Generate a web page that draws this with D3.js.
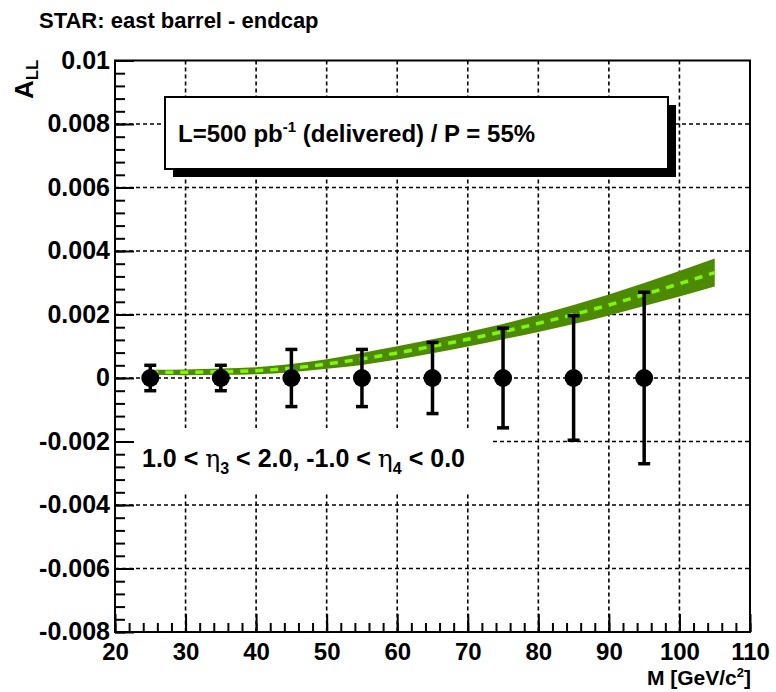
<!DOCTYPE html>
<html>
<head>
<meta charset="utf-8">
<script src="https://cdn.jsdelivr.net/npm/d3@7"></script>
<style>
  body { margin: 0; background: #fff; }
  text { font-family: "Liberation Sans", Arial, sans-serif; font-weight: bold; fill: #000; }
</style>
</head>
<body>
<div id="chart"></div>
<script>
// data
var massPoints = [25, 35, 45, 55, 65, 75, 85, 95];
var asymValues = [0, 0, 0, 0, 0, 0, 0, 0];
var asymErrors = [0.0004, 0.0004, 0.0009, 0.0009, 0.00112, 0.00157, 0.00196, 0.0027];

// theory band (central value and half width)
var bandMass   = [25, 30, 35, 40, 45, 50, 55, 60, 65, 70, 75, 80, 85, 90, 95, 100, 105];
var bandCenter = [0.00018, 0.00018, 0.0002, 0.00023, 0.00031, 0.00044, 0.0006, 0.00079, 0.001,
                  0.00122, 0.00146, 0.00172, 0.002, 0.0023, 0.00263, 0.00297, 0.00332];
var bandHalf   = [0.00008, 0.00009, 0.0001, 0.00011, 0.00013, 0.00015, 0.00019, 0.00021, 0.00022,
                  0.00023, 0.00024, 0.00027, 0.0003, 0.00033, 0.00036, 0.0004, 0.00044];

var xTicks = [20, 30, 40, 50, 60, 70, 80, 90, 100, 110];
var yTicks = [-0.008, -0.006, -0.004, -0.002, 0, 0.002, 0.004, 0.006, 0.008, 0.01];
var yTickLabels = ["-0.008", "-0.006", "-0.004", "-0.002", "0", "0.002", "0.004", "0.006", "0.008", "0.01"];

var width = 776, height = 692;
var frame = {left: 115, right: 750, top: 60.5, bottom: 632};

var svg = d3.select("#chart")
  .append("svg")
    .attr("width", width)
    .attr("height", height);

var x = d3.scaleLinear().domain([20, 110]).range([frame.left, frame.right]);
var y = d3.scaleLinear().domain([-0.008, 0.01]).range([frame.bottom, frame.top]);

// dashed grid
var grid = svg.append("g")
  .attr("stroke", "#000")
  .attr("stroke-width", 1.6)
  .attr("stroke-dasharray", "4,3");
grid.selectAll("line.gx")
  .data(xTicks.slice(1, -1))
  .enter().append("line")
    .attr("x1", d => x(d)).attr("x2", d => x(d))
    .attr("y1", frame.top).attr("y2", frame.bottom);
grid.selectAll("line.gy")
  .data(yTicks.slice(1, -1))
  .enter().append("line")
    .attr("y1", d => y(d)).attr("y2", d => y(d))
    .attr("x1", frame.left).attr("x2", frame.right);

// legend box with shadow
svg.append("rect")
  .attr("x", 173).attr("y", 105).attr("width", 503).attr("height", 72)
  .attr("fill", "#000");
svg.append("rect")
  .attr("x", 165).attr("y", 97).attr("width", 503).attr("height", 72)
  .attr("fill", "#fff").attr("stroke", "#000").attr("stroke-width", 2);
var leg = svg.append("text")
  .attr("x", 178).attr("y", 142)
  .style("font-size", "24px");
leg.append("tspan").text("L=500 pb");
leg.append("tspan").attr("dy", -10).style("font-size", "15px").text("-1");
leg.append("tspan").attr("dy", 10).text(" (delivered) / P = 55%");

// white pave behind the eta text
svg.append("rect")
  .attr("x", frame.left + 1).attr("y", 428).attr("width", 377).attr("height", 66)
  .attr("fill", "#fff");
var eta = svg.append("text")
  .attr("x", 142).attr("y", 467)
  .style("font-size", "25px");
eta.append("tspan").text("1.0 < ");
eta.append("tspan").style("font-family", "'DejaVu Serif', serif").style("font-weight", "normal").text("η");
eta.append("tspan").attr("dy", 7).style("font-size", "16px").text("3");
eta.append("tspan").attr("dy", -7).text(" < 2.0, -1.0 < ");
eta.append("tspan").style("font-family", "'DejaVu Serif', serif").style("font-weight", "normal").text("η");
eta.append("tspan").attr("dy", 7).style("font-size", "16px").text("4");
eta.append("tspan").attr("dy", -7).text(" < 0.0");

// theory band
var bandData = bandMass.map((m, i) => ({m: m, c: bandCenter[i], h: bandHalf[i]}));
var area = d3.area()
  .curve(d3.curveMonotoneX)
  .x(d => x(d.m))
  .y0(d => y(d.c - d.h))
  .y1(d => y(d.c + d.h));
svg.append("path")
  .datum(bandData)
  .attr("d", area)
  .attr("fill", "#4c8a00");
svg.append("path")
  .datum(bandData)
  .attr("d", d3.line().curve(d3.curveMonotoneX).x(d => x(d.m)).y(d => y(d.c)))
  .attr("fill", "none")
  .attr("stroke", "#80f800")
  .attr("stroke-width", 3.5)
  .attr("stroke-dasharray", "8,7");

// error bars and markers
var pts = massPoints.map((m, i) => ({m: m, v: asymValues[i], e: asymErrors[i]}));
var eb = svg.append("g").attr("stroke", "#000").attr("stroke-width", 3.5);
eb.selectAll("line.bar")
  .data(pts)
  .enter().append("line")
    .attr("x1", d => x(d.m)).attr("x2", d => x(d.m))
    .attr("y1", d => y(d.v - d.e)).attr("y2", d => y(d.v + d.e));
eb.selectAll("line.capTop")
  .data(pts)
  .enter().append("line")
    .attr("x1", d => x(d.m) - 6).attr("x2", d => x(d.m) + 6)
    .attr("y1", d => y(d.v + d.e)).attr("y2", d => y(d.v + d.e));
eb.selectAll("line.capBot")
  .data(pts)
  .enter().append("line")
    .attr("x1", d => x(d.m) - 6).attr("x2", d => x(d.m) + 6)
    .attr("y1", d => y(d.v - d.e)).attr("y2", d => y(d.v - d.e));
svg.append("g").selectAll("circle")
  .data(pts)
  .enter().append("circle")
    .attr("cx", d => x(d.m))
    .attr("cy", d => y(d.v))
    .attr("r", 9)
    .attr("fill", "#000");

// frame
svg.append("rect")
  .attr("x", frame.left).attr("y", frame.top)
  .attr("width", frame.right - frame.left).attr("height", frame.bottom - frame.top)
  .attr("fill", "none").attr("stroke", "#000").attr("stroke-width", 2);

// left axis: major + minor ticks pointing inside
var yMinor = d3.range(-0.008, 0.01 + 1e-9, 0.0004);
svg.append("g")
  .attr("transform", "translate(" + frame.left + ",0)")
  .call(d3.axisLeft(y).tickValues(yMinor).tickSize(-10).tickFormat(""))
  .call(g => g.select(".domain").remove())
  .call(g => g.selectAll("line").attr("stroke-width", 2));
svg.append("g")
  .attr("transform", "translate(" + frame.left + ",0)")
  .call(d3.axisLeft(y).tickValues(yTicks).tickSize(-19).tickPadding(5)
    .tickFormat((d, i) => yTickLabels[i]))
  .call(g => g.select(".domain").remove())
  .call(g => g.selectAll("line").attr("stroke-width", 2))
  .call(g => g.selectAll("text")
    .style("font-size", "25px")
    .style("font-family", "'Liberation Sans', Arial, sans-serif")
    .style("font-weight", "bold")
    .attr("dy", "0.3em"));

// bottom axis
var xMinor = d3.range(20, 110.01, 2);
svg.append("g")
  .attr("transform", "translate(0," + frame.bottom + ")")
  .call(d3.axisBottom(x).tickValues(xMinor).tickSize(-9).tickFormat(""))
  .call(g => g.select(".domain").remove())
  .call(g => g.selectAll("line").attr("stroke-width", 2));
svg.append("g")
  .attr("transform", "translate(0," + frame.bottom + ")")
  .call(d3.axisBottom(x).tickValues(xTicks).tickSize(-18).tickPadding(11).tickFormat(d3.format("d")))
  .call(g => g.select(".domain").remove())
  .call(g => g.selectAll("line").attr("stroke-width", 2))
  .call(g => g.selectAll("text")
    .style("font-size", "24px")
    .style("font-family", "'Liberation Sans', Arial, sans-serif")
    .style("font-weight", "bold"));

// title and axis labels
svg.append("text")
  .attr("x", 39).attr("y", 28)
  .style("font-size", "22px")
  .text("STAR: east barrel - endcap");

var yl = svg.append("text")
  .attr("transform", "translate(33," + (frame.top - 1) + ") rotate(-90)")
  .attr("text-anchor", "end")
  .style("font-size", "26px");
yl.append("tspan").text("A");
yl.append("tspan").attr("dy", 5).style("font-size", "17px").text("LL");

var xl = svg.append("text")
  .attr("x", 751).attr("y", 685)
  .attr("text-anchor", "end")
  .style("font-size", "21px");
xl.append("tspan").text("M [GeV/c");
xl.append("tspan").attr("dy", -8).style("font-size", "13px").text("2");
xl.append("tspan").attr("dy", 8).text("]");
</script>
</body>
</html>
